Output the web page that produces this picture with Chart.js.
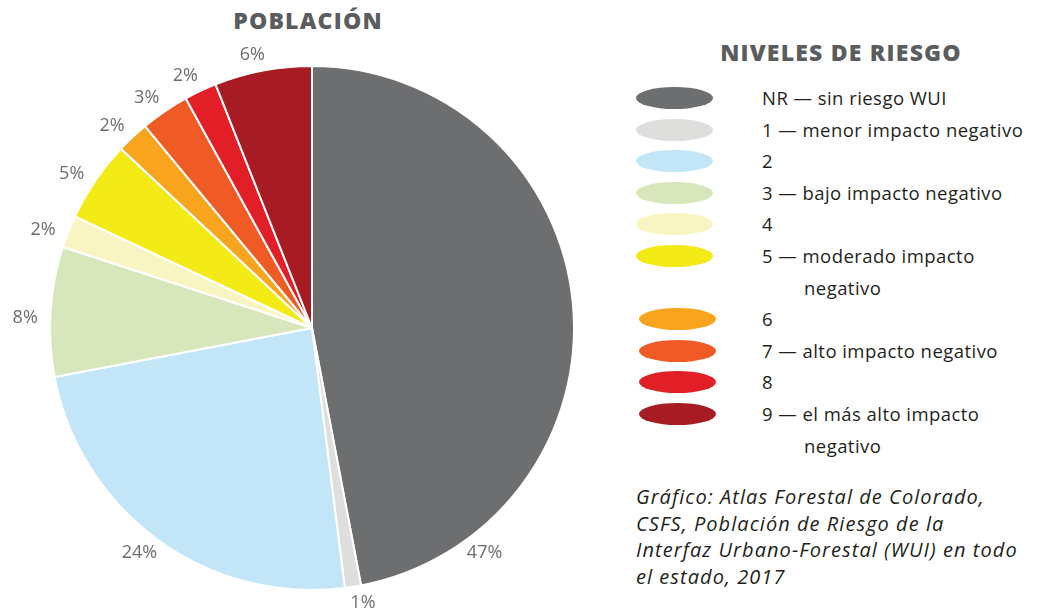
<!DOCTYPE html>
<html>
<head>
<meta charset="utf-8">
<script src="https://cdn.jsdelivr.net/npm/chart.js@4.4.1/dist/chart.umd.min.js"></script>
<style>
  body { margin: 0; width: 1042px; height: 609px; background: #fff; position: relative; overflow: hidden; font-family: "Open Sans", sans-serif; }
  #pie-wrap { position: absolute; left: 0; top: 0; width: 624px; height: 609px; }
  .big-title { position: absolute; font-weight: 800; color: #5b5c5e; font-size: 23px; letter-spacing: 1.2px; white-space: nowrap; line-height: 26px; }
  #pie-title { left: 0; width: 616px; text-align: center; top: 7px; }
  #legend-title { left: 700px; width: 282px; text-align: center; top: 39px; }
  #legend { position: absolute; left: 636px; top: 82px; width: 400px; }
  .row { position: relative; padding-left: 126px; font-size: 18.5px; letter-spacing: 0.45px; line-height: 31.6px; color: #231f20; }
  .row .txt { display: block; padding-left: 42px; text-indent: -42px; width: 250px; }
  .row .dot { position: absolute; left: 0; top: 5px; width: 77px; height: 22px; border-radius: 50%; }
  #source { position: absolute; left: 636px; top: 484px; font-size: 20px; letter-spacing: 1.05px; font-style: italic; line-height: 26.7px; color: #231f20; white-space: nowrap; }
</style>
</head>
<body>
<div id="pie-title" class="big-title">POBLACIÓN</div>
<div id="pie-wrap"><canvas id="pie-chart" width="624" height="609"></canvas></div>
<div id="legend-title" class="big-title">NIVELES DE RIESGO</div>
<div id="legend"></div>
<div id="source">Gráfico: Atlas Forestal de Colorado,<br>CSFS, Población de Riesgo de la<br>Interfaz Urbano-Forestal (WUI) en todo<br>el estado, 2017</div>

<script>
// risk levels, share of population (%) and slice colours
const levels = [
  "NR — sin riesgo WUI",
  "1 — menor impacto negativo",
  "2",
  "3 — bajo impacto negativo",
  "4",
  "5 — moderado impacto negativo",
  "6",
  "7 — alto impacto negativo",
  "8",
  "9 — el más alto impacto negativo",
];
const population = [47, 1, 24, 8, 2, 5, 2, 3, 2, 6];
const levelColors = [
  "#6d6e70",
  "#dededd",
  "#c2e5f7",
  "#d7e6bb",
  "#f8f5c2",
  "#f4ea16",
  "#f8a51d",
  "#f05a24",
  "#e21f26",
  "#a71c22",
];

const pieCanvas = document.getElementById("pie-chart");

// draws the "nn%" text just outside each slice
const percentLabels = {
  id: "percentLabels",
  afterDatasetsDraw(chart, args, opts) {
    const ctx = chart.ctx;
    const arcs = chart.getDatasetMeta(0).data;
    ctx.save();
    ctx.font = "18px 'Open Sans', sans-serif";
    ctx.fillStyle = "#6d6e70";
    ctx.textAlign = "center";
    ctx.textBaseline = "middle";
    arcs.forEach((arc, i) => {
      let angle = (arc.startAngle + arc.endAngle) / 2 + opts.shift * Math.PI / 180;
      if (opts.angleOverride[i] !== undefined) {
        angle = (opts.angleOverride[i] - 90) * Math.PI / 180;
      }
      // a bit further out on the sides, where the text is wider
      const r = arc.outerRadius + opts.offset + opts.sideExtra * Math.abs(Math.cos(angle));
      const x = arc.x + Math.cos(angle) * r;
      const y = arc.y + Math.sin(angle) * r;
      ctx.fillText(population[i] + "%", x, y);
    });
    ctx.restore();
  },
};

const populationPie = new Chart(pieCanvas, {
  type: "pie",
  data: {
    labels: levels,
    datasets: [
      {
        label: "Población",
        data: population,
        backgroundColor: levelColors,
        borderColor: "#ffffff",
        borderWidth: 2,
        radius: 262,
      },
    ],
  },
  options: {
    responsive: false,
    animation: false,
    layout: { padding: { top: 47 } },
    plugins: {
      legend: { display: false },
      tooltip: { enabled: false },
      percentLabels: { offset: 16, sideExtra: 9, shift: -1.5, angleOverride: { 0: 142.5, 2: 217.5 } },
    },
  },
  plugins: [percentLabels],
});

// legend built from the same arrays
const legendBox = document.getElementById("legend");
levels.forEach((name, i) => {
  const row = document.createElement("div");
  row.className = "row";
  const dot = document.createElement("span");
  dot.className = "dot";
  dot.style.background = levelColors[i];
  if (i >= 6) dot.style.left = "3px";
  const txt = document.createElement("span");
  txt.className = "txt";
  txt.textContent = name;
  row.appendChild(dot);
  row.appendChild(txt);
  legendBox.appendChild(row);
});
</script>
</body>
</html>
